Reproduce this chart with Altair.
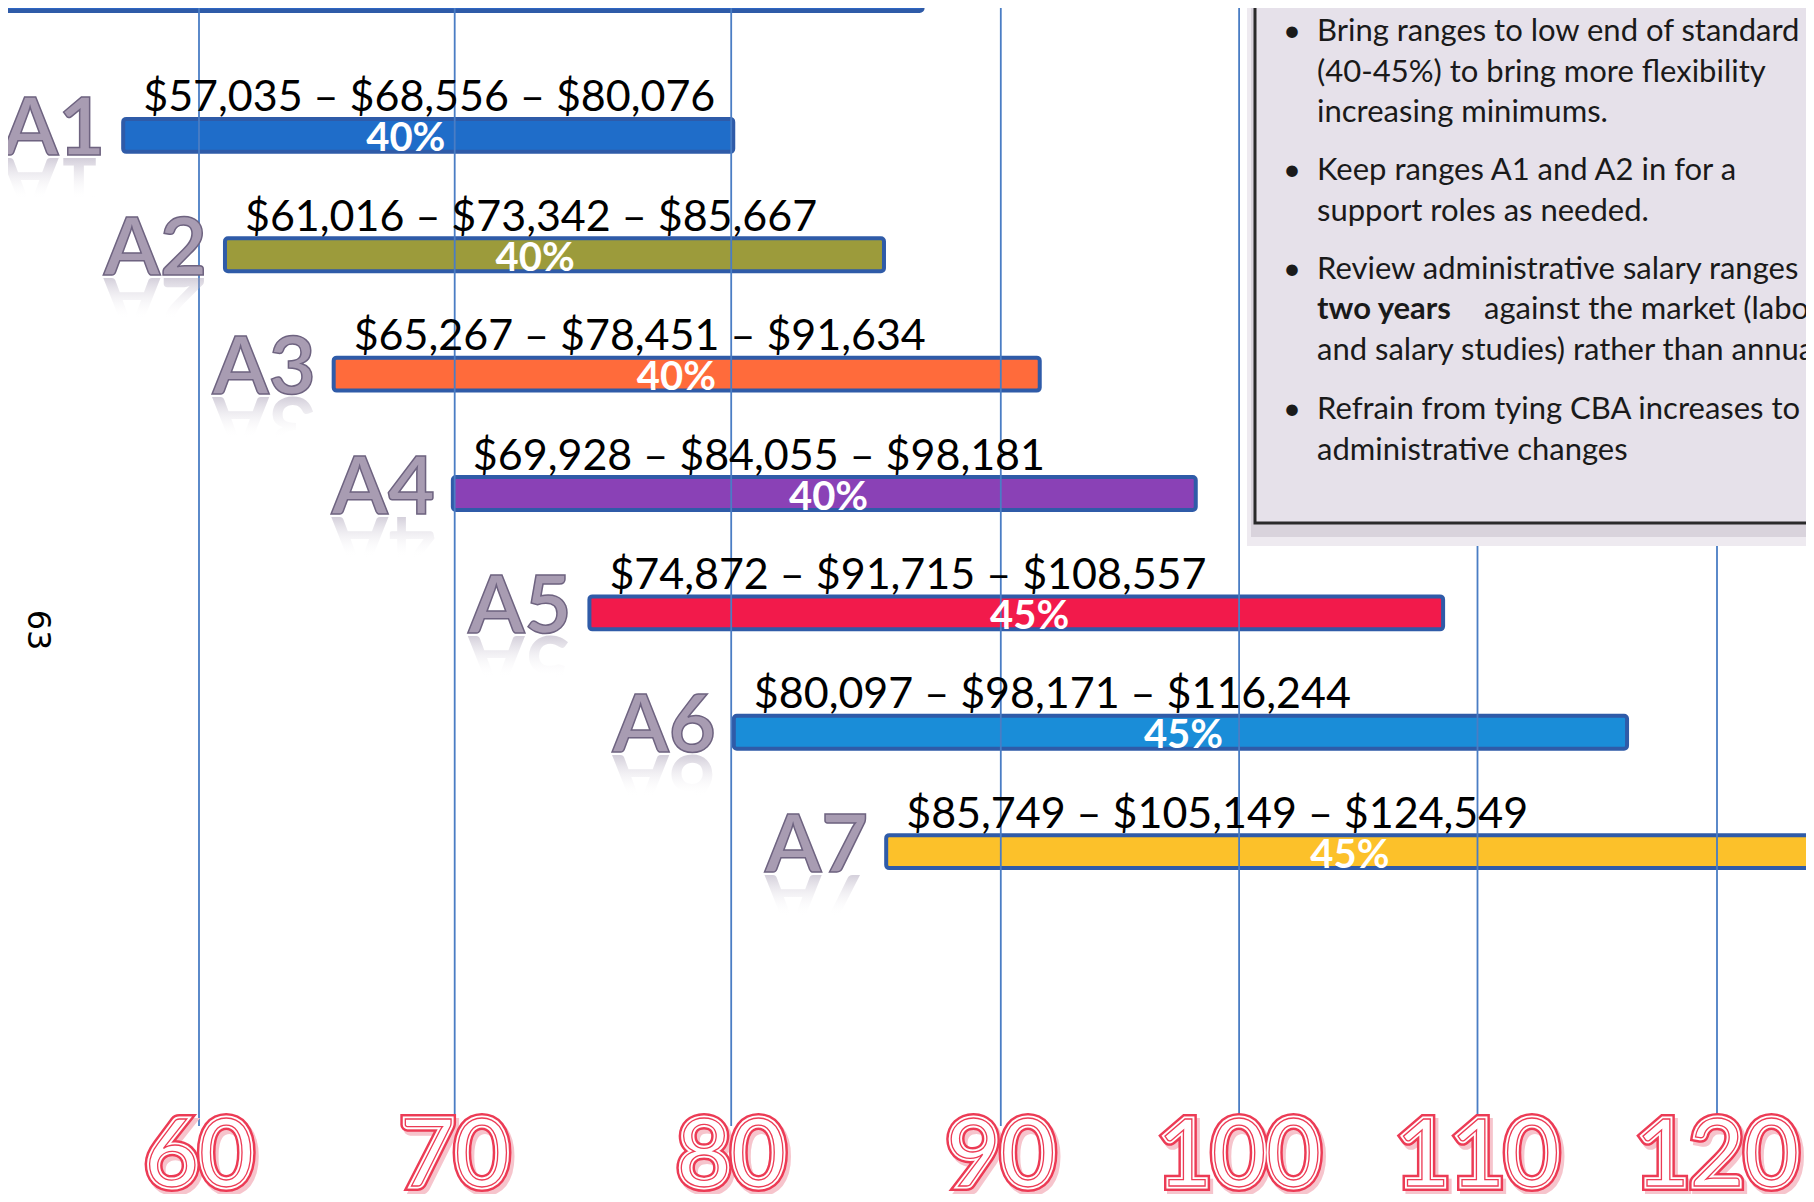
import altair as alt
import pandas as pd

# ---------------- values ----------------
grades = ["A1", "A2", "A3", "A4", "A5", "A6", "A7"]
range_min = [57035, 61016, 65267, 69928, 74872, 80097, 85749]
range_mid = [68556, 73342, 78451, 84055, 91715, 98171, 105149]
range_max = [80076, 85667, 91634, 98181, 108557, 116244, 124549]
spread = ["40%", "40%", "40%", "40%", "45%", "45%", "45%"]
bar_colors = ["#1F6DC9", "#9C9B3B", "#FF6B3B", "#8A41B6", "#F21A4B", "#1A8DD8", "#FCC12A"]
ticks = [60, 70, 80, 90, 100, 110, 120]
# bar of a previous row that is only partly visible at the top edge (estimated)
partial_min = [50000]
partial_max = [87100]

para1 = ["Bring ranges to low end of standard", "(40-45%) to bring more flexibility", "increasing minimums."]
para2 = ["Keep ranges A1 and A2 in for a", "support roles as needed."]
para3a = "Review administrative salary ranges"
para3b_bold = "two years"
para3b_rest = "against the market (labor"
para3c = "and salary studies) rather than annual"
para4 = ["Refrain from tying CBA increases to", "administrative changes"]
page_number = "63"

# ---------------- layout ----------------
W, H = 1798, 1186
# the hand-drawn slide spaces its value lines unevenly: piecewise linear scale
tick_px = [191.0, 446.7, 723.2, 992.8, 1231.1, 1469.5, 1709.0]
xs = alt.Scale(domain=[t * 1000 for t in ticks], range=tick_px, nice=False, zero=False)
ys = alt.Scale(domain=[-0.067, 9.868], range=[0, H], nice=False, zero=False)

df = pd.DataFrame({
    "grade": grades, "mn": range_min, "md": range_mid, "mx": range_max,
    "spread": spread, "color": bar_colors, "row": list(range(1, len(grades) + 1)),
})
NB = "\u00a0"
df["label"] = [f"${a:,}{NB}–{NB}${b:,}{NB}–{NB}${c:,}"
               for a, b, c in zip(range_min, range_mid, range_max)]
df["refl"] = [g[::-1] for g in grades]

pb = pd.DataFrame({"mn": partial_min, "mx": partial_max, "row": [-0.18]})
tdf = pd.DataFrame({"t": [t * 1000 for t in ticks], "lab": [str(t) for t in ticks]})
one = pd.DataFrame({"k": [0]})

half = 0.138

partial = alt.Chart(pb).transform_calculate(
    y0=f"datum.row - {half}", y1=f"datum.row + {half}"
).mark_rect(fill="#2E66C3", stroke="#2F5BA8", strokeWidth=4, cornerRadius=3, clip=True).encode(
    x=alt.X("mn:Q", scale=xs, axis=None), x2="mx:Q",
    y=alt.Y("y0:Q", scale=ys, axis=None), y2="y1:Q",
)

bars = alt.Chart(df).transform_calculate(
    y0=f"datum.row - {half}", y1=f"datum.row + {half}"
).mark_rect(stroke="#2F5BA8", strokeWidth=4, cornerRadius=3, clip=True).encode(
    x=alt.X("mn:Q", scale=xs, axis=None), x2="mx:Q",
    y=alt.Y("y0:Q", scale=ys, axis=None), y2="y1:Q",
    fill=alt.Fill("color:N", scale=None),
)

grid = alt.Chart(tdf).mark_rule(stroke="#4A7DC4", strokeWidth=1.8).encode(
    x=alt.X("t:Q", scale=xs, axis=None), y=alt.value(0), y2=alt.value(1118),
)

def fixed_text(txt, px, py, **kw):
    return alt.Chart(one).mark_text(text=txt, **kw).encode(x=alt.value(px), y=alt.value(py))

box_shadow2 = alt.Chart(one).mark_rect(fill="#EEEAF0").encode(
    x=alt.value(1239), x2=alt.value(1800), y=alt.value(-5), y2=alt.value(538))
box_shadow = alt.Chart(one).mark_rect(fill="#D9D3DC").encode(
    x=alt.value(1243), x2=alt.value(1800), y=alt.value(-5), y2=alt.value(529))
box = alt.Chart(one).mark_rect(fill="#E6E1EA", stroke="#2A2A2A", strokeWidth=3).encode(
    x=alt.value(1247), x2=alt.value(1806), y=alt.value(-5), y2=alt.value(515))

bfont = dict(font="Lato", fontSize=31, color="#1A1A1A", align="left", baseline="alphabetic",
             lineHeight=40.5, clip=True)
tx, bx = 1309, 1275
box_texts = [
    fixed_text("•", bx, 33, **bfont),
    fixed_text(para1, tx, 33, **bfont),
    fixed_text("•", bx, 172, **bfont),
    fixed_text(para2, tx, 172, **bfont),
    fixed_text("•", bx, 271, **bfont),
    fixed_text(para3a, tx, 271, **bfont),
    fixed_text(para3b_bold, tx, 311, fontWeight="bold", **bfont),
    fixed_text(para3b_rest, 1476, 311, **bfont),
    fixed_text(para3c, tx, 352, **bfont),
    fixed_text("•", bx, 411, **bfont),
    fixed_text(para4, tx, 411, **bfont),
]

range_labels = alt.Chart(df).mark_text(
    font="Lato", fontSize=43, color="black", align="left", baseline="alphabetic", dx=20, dy=-24
).encode(x=alt.X("mn:Q", scale=xs, axis=None), y=alt.Y("row:Q", scale=ys, axis=None), text="label:N")

pct_labels = alt.Chart(df).mark_text(
    font="Lato", fontWeight="bold", fontSize=40, color="white", align="center",
    baseline="alphabetic", dx=-12, dy=16
).encode(x=alt.X("md:Q", scale=xs, axis=None), y=alt.Y("row:Q", scale=ys, axis=None), text="spread:N")

# faded mirror image below each grade name (offsets are given in the rotated frame)
refl_fill = alt.LinearGradient(
    gradient="linear", x1=0, x2=0, y1=0, y2=1,
    stops=[
        alt.GradientStop(offset=0, color="rgba(255,255,255,0)"),
        alt.GradientStop(offset=0.4, color="rgba(255,255,255,0)"),
        alt.GradientStop(offset=0.82, color="rgba(160,150,175,0.45)"),
        alt.GradientStop(offset=1, color="rgba(160,150,175,0.45)"),
    ],
)
GDX, GDY, GFS = -18, 20, 81
grade_refl = alt.Chart(df).mark_text(
    font="Lato", fontWeight="bold", fontSize=GFS, fill=refl_fill, align="left",
    baseline="alphabetic", angle=180, dx=-GDX, dy=-(GDY + 3)
).encode(x=alt.X("mn:Q", scale=xs, axis=None), y=alt.Y("row:Q", scale=ys, axis=None), text="refl:N")

grade_labels = alt.Chart(df).mark_text(
    font="Lato", fontWeight="bold", fontSize=GFS, fill="#A89CB2", stroke="#6E6380", strokeWidth=1.5,
    align="right", baseline="alphabetic", dx=GDX, dy=GDY
).encode(x=alt.X("mn:Q", scale=xs, axis=None), y=alt.Y("row:Q", scale=ys, axis=None), text="grade:N")

tick_enc = dict(x=alt.X("t:Q", scale=xs, axis=None), y=alt.value(1178), text="lab:N")
tfont = dict(font="Lato", fontSize=94, align="center", baseline="alphabetic")
tick_shadow = alt.Chart(tdf).mark_text(fill="#F6C4CC", stroke="#F6C4CC", strokeWidth=10, dx=3, dy=4, **tfont).encode(**tick_enc)
tick_outer = alt.Chart(tdf).mark_text(fill="#EC3B55", stroke="#EC3B55", strokeWidth=10, **tfont).encode(**tick_enc)
tick_gap = alt.Chart(tdf).mark_text(fill="white", stroke="white", strokeWidth=5, **tfont).encode(**tick_enc)
tick_inner = alt.Chart(tdf).mark_text(fill="white", stroke="#EC3B55", strokeWidth=1.3, **tfont).encode(**tick_enc)

page_no = fixed_text(page_number, 30, 622, font="DejaVu Sans", fontSize=32, color="black",
                     align="center", baseline="middle", angle=90)

chart = alt.layer(
    partial, bars, grid, box_shadow2, box_shadow, box, *box_texts,
    range_labels, pct_labels, grade_refl, grade_labels,
    tick_shadow, tick_outer, tick_gap, tick_inner, page_no,
).properties(
    width=W, height=H, autosize=alt.AutoSizeParams(type="none"), padding=0, background="white"
).configure_view(stroke=None)

chart.save("out.html", embed_options={"renderer": "svg", "actions": False})
